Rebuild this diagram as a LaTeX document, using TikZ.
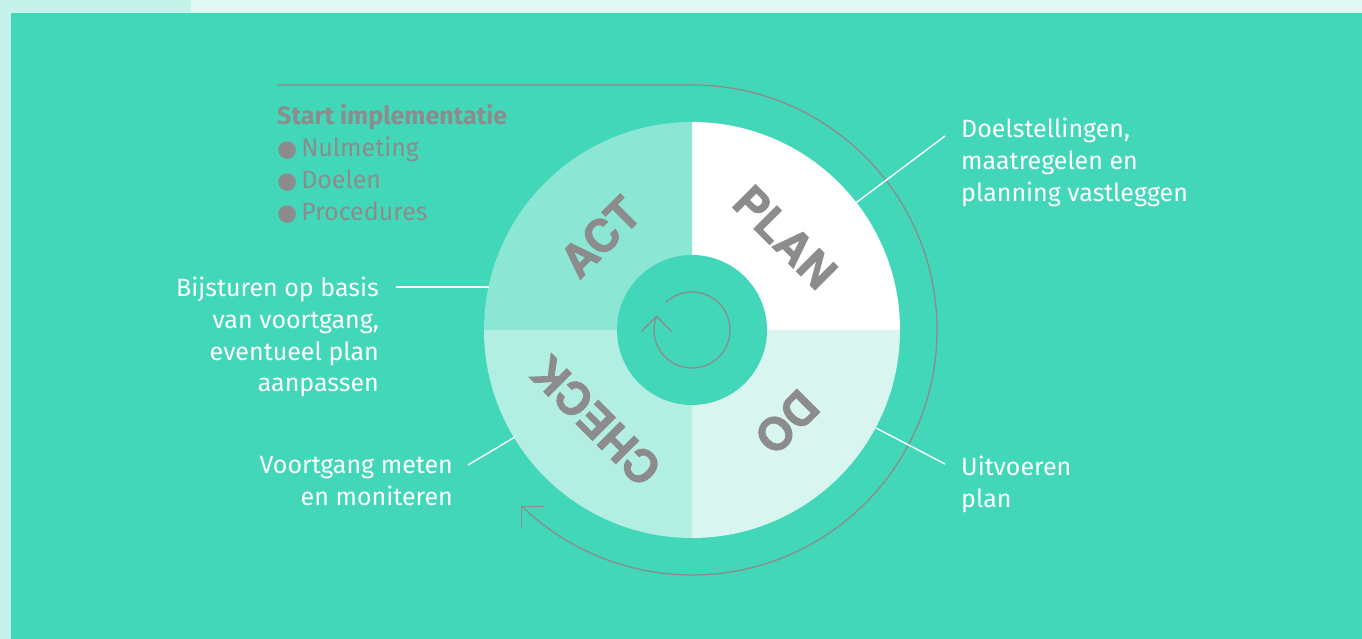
\documentclass[tikz,border=0pt]{standalone}
\usepackage{fontspec}
\setmainfont{Fira Sans}
\newfontfamily\bigfont{texgyreheros-bold.otf}[FakeBold=1.6]
\newfontfamily\symfont{DejaVu Sans}
\definecolor{bgpale}{HTML}{E1F8F3}
\definecolor{bgleft}{HTML}{C6F3E9}
\definecolor{tealbg}{HTML}{42D7B8}
\definecolor{actc}{HTML}{8BE6D3}
\definecolor{checkc}{HTML}{B2EEE1}
\definecolor{doc}{HTML}{D8F5EF}
\definecolor{txtgray}{HTML}{8C8C8C}
\tikzset{
  bigword/.style={font=\bigfont\fontsize{45}{45}\selectfont, text=txtgray, inner sep=0pt},
  lbl/.style={font=\fontsize{25}{31.7}\selectfont, text=white, inner sep=0pt},
  graytxt/.style={font=\fontsize{25}{32}\selectfont, text=txtgray, inner sep=0pt, align=left},
  conn/.style={draw=white, line width=1.4pt},
  grayline/.style={draw=txtgray, line width=1.3pt},
}
\begin{document}
\begin{tikzpicture}[x=1pt,y=1pt]
\useasboundingbox (0,0) rectangle (1362,639);
% background
\fill[bgpale] (0,0) rectangle (1362,639);
\fill[bgleft] (0,626) rectangle (191,639);
\fill[bgleft] (0,0) rectangle (11,639);
\fill[tealbg] (11,0) rectangle (1362,626);
% wheel
\coordinate (c) at (692,309);
\fill[white]  (c) -- ++(0,208) arc[start angle=90,end angle=0,radius=208] -- cycle;
\fill[doc]    (c) -- ++(208,0) arc[start angle=0,end angle=-90,radius=208] -- cycle;
\fill[checkc] (c) -- ++(0,-208) arc[start angle=-90,end angle=-180,radius=208] -- cycle;
\fill[actc]   (c) -- ++(-208,0) arc[start angle=180,end angle=90,radius=208] -- cycle;
\fill[tealbg] (c) circle[radius=75];
% outer cycle arc
\coordinate (topstart) at (277,554);
\draw[grayline] (topstart) -- (692,554) arc[start angle=90,end angle=-134,radius=245] coordinate (otip);
\draw[grayline] ([xshift=22pt]otip) -- (otip) -- ([yshift=-22pt]otip);
% inner cycle arrow
\draw[grayline] ([shift={(134:38)}]c) arc[start angle=134,end angle=-201,radius=38] coordinate (itip);
\draw[grayline] ([shift={(-15,-15)}]itip) -- (itip) -- ([shift={(15,-15)}]itip);
% quadrant words
\node[bigword, rotate=-45] (plan) at (785,402) {PLAN};
\node[bigword, rotate=45] (act) at (600,402) {ACT};
\node[bigword, rotate=135] (check) at (596,218) {CHECK};
\node[bigword, rotate=225] (do) at (787,217) {DO};
% labels
\node[lbl, align=left, anchor=north west] (planlbl) at (961,521) {Doelstellingen,\\maatregelen en\\planning vastleggen};
\node[lbl, align=right, anchor=north east] (actlbl) at (379,362) {Bijsturen op basis\\van voortgang,\\eventueel plan\\aanpassen};
\node[lbl, align=right, anchor=north east] (checklbl) at (453,183) {Voortgang meten\\en moniteren};
\node[lbl, align=left, anchor=north west] (dolbl) at (961,183) {Uitvoeren\\plan};
\node[graytxt, anchor=north west] (start) at (277,535) {\textbf{Start implementatie}\\{\symfont\fontsize{23}{23}\selectfont ●}\hspace{4pt}Nulmeting\\{\symfont\fontsize{23}{23}\selectfont ●}\hspace{4pt}Doelen\\{\symfont\fontsize{23}{23}\selectfont ●}\hspace{4pt}Procedures};
% connectors
\coordinate (planA) at (945,503);
\coordinate (planB) at ([shift={(37.8:208)}]c);
\draw[conn] (planA) -- (planB);
\coordinate (actA) at (396,352);
\coordinate (actB) at (488.5,352);
\draw[conn] (actA) -- (actB);
\coordinate (checkA) at (468,174);
\coordinate (checkB) at (515,202);
\draw[conn] (checkA) -- (checkB);
\coordinate (doA) at (945,175);
\coordinate (doB) at (876,211);
\draw[conn] (doA) -- (doB);
\end{tikzpicture}
\end{document}
